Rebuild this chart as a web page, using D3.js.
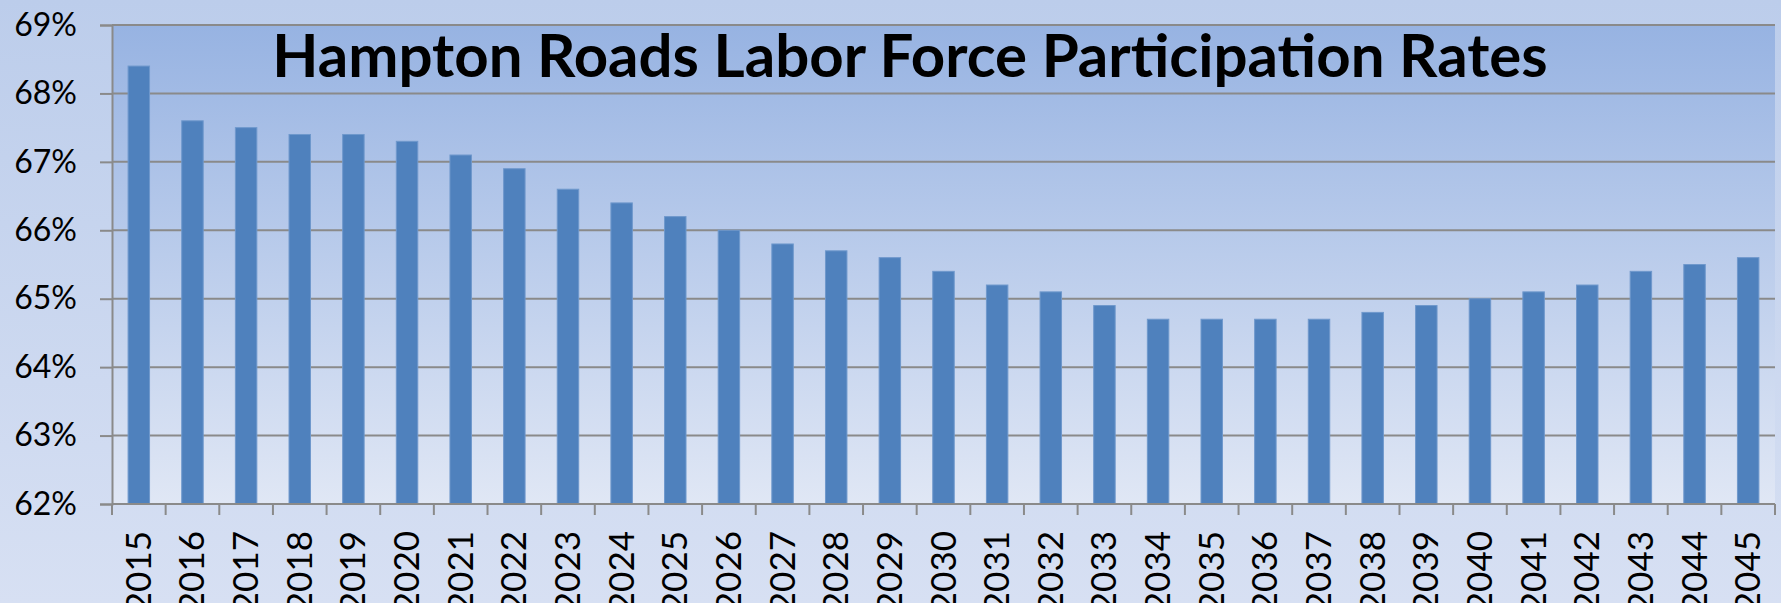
<!DOCTYPE html>
<html>
<head>
<meta charset="utf-8">
<script src="https://cdn.jsdelivr.net/npm/d3@7"></script>
<style>
  html, body { margin: 0; padding: 0; overflow: hidden; }
  body { width: 1781px; height: 603px; }
  text { font-family: Lato, "Open Sans", sans-serif; fill: #000; }
</style>
</head>
<body>
<div id="chart"></div>
<script>
const years = [2015, 2016, 2017, 2018, 2019, 2020, 2021, 2022, 2023, 2024,
  2025, 2026, 2027, 2028, 2029, 2030, 2031, 2032, 2033, 2034,
  2035, 2036, 2037, 2038, 2039, 2040, 2041, 2042, 2043, 2044, 2045]
const rates = [68.4, 67.6, 67.5, 67.4, 67.4, 67.3, 67.1, 66.9, 66.6, 66.4,
  66.2, 66.0, 65.8, 65.7, 65.6, 65.4, 65.2, 65.1, 64.9, 64.7,
  64.7, 64.7, 64.7, 64.8, 64.9, 65.0, 65.1, 65.2, 65.4, 65.5, 65.6]
const yTicks = [62, 63, 64, 65, 66, 67, 68, 69]
const title = 'Hampton Roads Labor Force Participation Rates'

const width = 1781
const height = 603
const margin = { top: 25, right: 6, bottom: 99, left: 112 }
const innerW = width - margin.left - margin.right
const innerH = height - margin.top - margin.bottom

const svg = d3.select('#chart')
  .append('svg')
  .attr('width', width)
  .attr('height', height)

const defs = svg.append('defs')

// page background, lighter towards the bottom
const pageGrad = defs.append('linearGradient')
  .attr('id', 'pageGrad')
  .attr('x1', 0).attr('y1', 0).attr('x2', 0).attr('y2', 1)
pageGrad.append('stop').attr('offset', '0%').attr('stop-color', '#bccdeb')
pageGrad.append('stop').attr('offset', '100%').attr('stop-color', '#d7e0f3')

// plot area gradient
const plotGrad = defs.append('linearGradient')
  .attr('id', 'plotGrad')
  .attr('x1', 0).attr('y1', 0).attr('x2', 0).attr('y2', 1)
plotGrad.append('stop').attr('offset', '0%').attr('stop-color', '#97b3e2')
plotGrad.append('stop').attr('offset', '100%').attr('stop-color', '#e0e7f5')

svg.append('rect')
  .attr('width', width)
  .attr('height', height)
  .attr('fill', 'url(#pageGrad)')

const g = svg.append('g')
  .attr('transform', `translate(${margin.left},${margin.top})`)

g.append('rect')
  .attr('width', innerW)
  .attr('height', innerH)
  .attr('fill', 'url(#plotGrad)')

const x = d3.scaleBand()
  .domain(years)
  .range([0, innerW])
  .paddingInner(0.6)
  .paddingOuter(0.3)

const y = d3.scaleLinear()
  .domain([62, 69])
  .range([innerH, 0])

// gridlines
g.append('g')
  .selectAll('line')
  .data(yTicks)
  .join('line')
  .attr('x1', 0)
  .attr('x2', innerW)
  .attr('y1', d => y(d))
  .attr('y2', d => y(d))
  .attr('stroke', '#8a8a8a')
  .attr('stroke-width', 2)

// bars
g.append('g')
  .selectAll('rect')
  .data(years.map((yr, i) => ({ yr, v: rates[i] })))
  .join('rect')
  .attr('x', d => x(d.yr))
  .attr('y', d => y(d.v))
  .attr('width', x.bandwidth())
  .attr('height', d => innerH - y(d.v))
  .attr('fill', '#4f81bd')
  .attr('stroke', '#6f98cc')
  .attr('stroke-width', 1)

// y axis
const yAxis = g.append('g')
  .call(d3.axisLeft(y).tickValues(yTicks).tickSize(12).tickPadding(23).tickFormat(d => d + '%'))
yAxis.select('.domain').attr('stroke', '#8a8a8a').attr('stroke-width', 2)
yAxis.selectAll('.tick line').attr('stroke', '#8a8a8a').attr('stroke-width', 2)
yAxis.selectAll('.tick text')
  .attr('font-size', 32)
  .attr('font-family', 'Lato, sans-serif')
  .attr('fill', '#000')

// x axis: ticks sit at band boundaries
const boundaries = d3.range(years.length + 1).map(i => i * innerW / years.length)
const xAxisG = g.append('g')
  .attr('transform', `translate(0,${innerH})`)
xAxisG.append('line')
  .attr('x1', 0).attr('x2', innerW)
  .attr('stroke', '#8a8a8a').attr('stroke-width', 2)
xAxisG.selectAll('.tk')
  .data(boundaries)
  .join('line')
  .attr('class', 'tk')
  .attr('x1', d => d).attr('x2', d => d)
  .attr('y1', 0).attr('y2', 11)
  .attr('stroke', '#8a8a8a').attr('stroke-width', 2)
xAxisG.selectAll('text')
  .data(years)
  .join('text')
  .attr('transform', d => `translate(${x(d) + x.bandwidth() / 2 + 12},27) rotate(-90)`)
  .attr('text-anchor', 'end')
  .attr('font-size', 35)
  .text(d => d)

// title
svg.append('text')
  .attr('x', 910)
  .attr('y', 77)
  .attr('text-anchor', 'middle')
  .attr('font-size', 60)
  .attr('font-weight', 'bold')
  .text(title)
</script>
</body>
</html>
